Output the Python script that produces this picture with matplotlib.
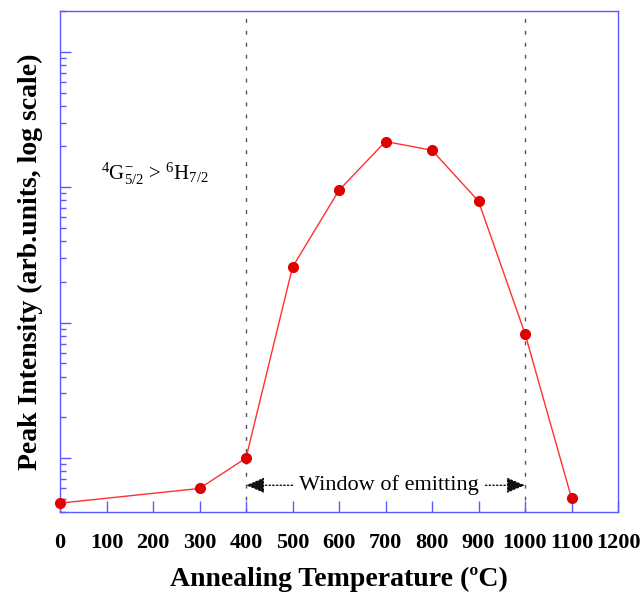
import numpy as np
import matplotlib
matplotlib.use("Agg")
import matplotlib.pyplot as plt

plt.rcParams['font.family'] = ['Liberation Serif', 'DejaVu Serif']
plt.rcParams['mathtext.fontset'] = 'custom'
plt.rcParams['mathtext.rm'] = 'Liberation Serif'
plt.rcParams['mathtext.it'] = 'Liberation Serif:italic'
plt.rcParams['mathtext.bf'] = 'Liberation Serif:bold'

# Annealing temperatures and peak intensity (arb. units)
temperature = [0, 300, 400, 500, 600, 700, 800, 900, 1000, 1100]
intensity = [4.65, 5.97, 10.0, 257, 950, 2175, 1875, 789, 83, 5.07]

x_ticks = list(range(0, 1201, 100))
window = (400, 1000)

axis_blue = '#5a5aff'

fig = plt.figure(figsize=(6.42, 6.0), dpi=100)
ax = fig.add_axes([60 / 642, 1 - 512 / 600, 558 / 642, 501 / 600])

ax.plot(temperature, intensity, color='#ff3030', lw=1.0, zorder=3)
ax.plot(temperature, intensity, 'o', color='#e00000', ms=7, zorder=4, clip_on=False)

# emitting window borders
for xv in window:
    ax.axvline(xv, color='#555555', ls=(0, (2.8, 5.8)), lw=1.0, zorder=1)

ax.set_yscale('log')
ax.set_xlim(0, 1200)
ax.set_ylim(4, 2e4)
ax.set_xticks(x_ticks)
ax.set_xticklabels([str(t) for t in x_ticks], fontsize=16, fontweight='bold')
ax.set_yticklabels([], minor=True)
ax.set_yticklabels([])

for s in ax.spines.values():
    s.set_color(axis_blue)
    s.set_linewidth(1.0)
ax.tick_params(axis='both', which='major', direction='in', length=8, width=1.0,
               color=axis_blue, pad=15)
ax.tick_params(axis='y', which='minor', direction='in', length=4.5, width=1.0,
               color=axis_blue)
ax.tick_params(axis='y', which='both', labelleft=False)

ax.set_xlabel('Annealing Temperature (ºC)', fontsize=20, fontweight='bold', labelpad=10)
ax.set_ylabel('Peak Intensity (arb.units, log scale)', fontsize=20, fontweight='bold',
              labelpad=12)

ax.text(88, 1250, r'$^4$G$_{5/2}^{-}$ > $^6$H$_{7/2}$', fontsize=15,
        ha='left', va='center')

# window label with dotted arrows to both borders
y_arrow = 6.3
ax.text(707, y_arrow, 'Window of emitting', fontsize=16, ha='center', va='center')
arrow_kw = dict(arrowstyle='-|>,head_length=0.7,head_width=0.3', ls=':', lw=1.0,
                color='#111111', mutation_scale=16, shrinkA=0, shrinkB=0)
ax.annotate('', xy=(window[0], y_arrow), xytext=(500, y_arrow), arrowprops=arrow_kw)
ax.annotate('', xy=(window[1], y_arrow), xytext=(915, y_arrow), arrowprops=arrow_kw)

fig.savefig('out.png', dpi=100)
